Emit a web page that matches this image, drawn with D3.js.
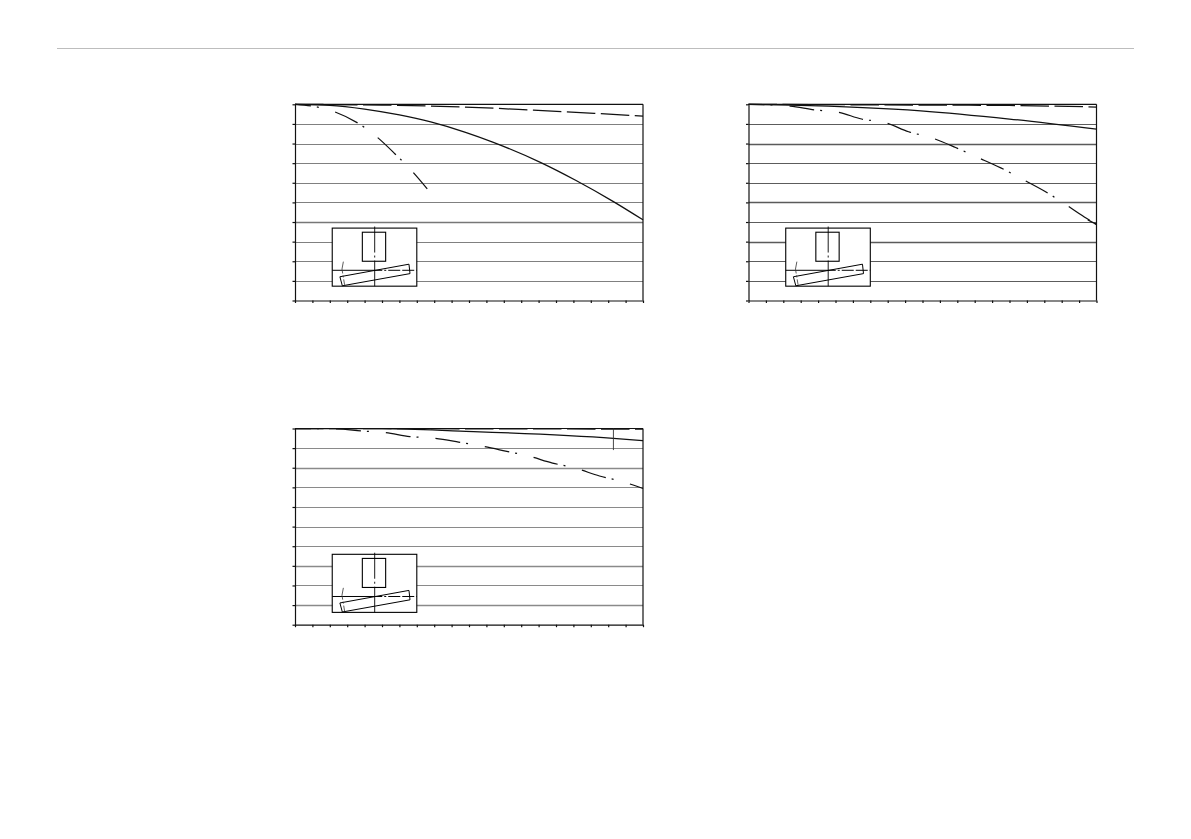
<!DOCTYPE html>
<html>
<head>
<meta charset="utf-8">
<script src="https://cdn.jsdelivr.net/npm/d3@7"></script>
<style>html,body{margin:0;padding:0;background:#fff}svg{display:block}</style>
</head>
<body>
<svg id="c" width="1191" height="839"></svg>
<script>
// Series values: [x, y] in axis units (x 0..20, y 0..100 downward)
const solidA = [[0,0],[2,.5],[4,2.4],[6,5.4],[7.8,9],[9.8,14.3],[11.4,19.4],[14.1,29.6],[16.1,38.6],[18.3,49.6],[20,58.9]];
const dashedA = [[0,0],[5,.4],[9.5,1.3],[13.7,3],[17.2,4.6],[20,6]];
const dashdotA = [[0,0],[1.3,1.4],[2.3,3.9],[3.6,9.5],[4.7,16.6],[5.75,25.3],[6.72,34],[7.6,43.1]];

const solidB = [[0,0],[2.4,.4],[9.9,3.3],[15,7.5],[20,12.7]];
const dashedB = [[0,0],[10,.4],[15,.6],[20,1.4]];
const dashdotB = [[0,0],[2.4,.9],[3.8,2.9],[5.1,3.9],[6.5,7.5],[7.9,9.5],[9.2,14],[10.5,17],[11.9,22],[13.1,26.8],[14.5,32.4],[15.7,38],[17,44.2],[18.1,50.3],[19.3,57.4],[20,61.2]];
const tailB = [[19.5,58.9],[20,61.2]];

const solidC = [[0,0],[5,.1],[9.5,1.3],[18.3,5],[20,6.2]];
const dashedC = [[0,0],[20,.3]];
const dashdotC = [[0,0],[2.4,.2],[3.85,1.3],[5.2,2.1],[6.6,4.1],[7.9,4.9],[9.4,6.9],[10.7,8.9],[12.1,11.5],[13.4,14],[14.8,17.6],[16.1,20.2],[17.5,24.2],[18.9,27.3],[20,30.6]];
const markerC = [[18.3,0],[18.3,11]];

const xTicks = d3.range(0, 21);
const yTicks = d3.range(0, 101, 10);

// Schematic inset, in the same axis units
const insetFrame = [[2.14,63.1],[7,92.7]];
const insetBlock = [[3.87,65.2],[5.21,80]];
const insetBar = [[2.58,87.9],[6.55,81.5],[6.61,86.3],[2.72,92.5]];
const insetVertical = [[4.58,62.3],[4.58,92.7]];
const insetHorizontal = [[2.14,84.6],[7,84.6]];
const insetTilted = [[2.78,80.2],[2.7,84],[2.85,92]];

const panels = [
  {left:295,   top:104.3, solid:solidA, dashed:dashedA, dashdot:dashdotA, grid:"#808080", thick:[60], thickColor:"#777", insetShift:0},
  {left:748.5, top:104.3, solid:solidB, dashed:dashedB, dashdot:dashdotB, grid:"#5c5c5c", thick:[20,50,70], thickColor:"#5a5a5a", insetShift:0, tail:tailB},
  {left:295,   top:428.5, solid:solidC, dashed:dashedC, dashdot:dashdotC, grid:"#8a8a8a", thick:[20,70,90], thickColor:"#8a8a8a", insetShift:2, marker:markerC}
];
const W = 348, H = 196.2, INK = "#111";

const svg = d3.select("#c");
svg.append("line").attr("x1",57).attr("x2",1134).attr("y1",48.5).attr("y2",48.5)
   .attr("stroke","#bdbdbd").attr("stroke-width",1);

panels.forEach(p => {
  const x = d3.scaleLinear().domain([0,20]).range([p.left, p.left + W]);
  const y = d3.scaleLinear().domain([0,100]).range([p.top, p.top + H]);
  const line = d3.line().x(d => x(d[0])).y(d => y(d[1]));
  const curve = d3.line().x(d => x(d[0])).y(d => y(d[1])).curve(d3.curveMonotoneX);
  const g = svg.append("g");

  // gridlines
  g.selectAll(".gl").data(yTicks.slice(1,-1)).join("line")
    .attr("x1",x(0)).attr("x2",x(20))
    .attr("y1",d=>Math.round(y(d))+.5).attr("y2",d=>Math.round(y(d))+.5)
    .attr("stroke",d=>p.thick.includes(d)?p.thickColor:p.grid)
    .attr("stroke-width",d=>p.thick.includes(d)?1.7:1);

  // frame
  g.append("line").attr("x1",x(0)).attr("x2",x(20)).attr("y1",y(0)).attr("y2",y(0)).attr("stroke",INK).attr("stroke-width",1.2);
  g.append("line").attr("x1",x(20)).attr("x2",x(20)).attr("y1",y(0)).attr("y2",y(100)).attr("stroke",INK).attr("stroke-width",1.2);

  // axes
  g.append("g").attr("transform",`translate(0,${y(100)})`)
    .call(d3.axisBottom(x).tickValues(xTicks).tickFormat("").tickSize(2.5).tickSizeOuter(0))
    .call(a=>a.selectAll("line,path").attr("stroke",INK).attr("stroke-width",1.2));
  g.append("g").attr("transform",`translate(${x(0)},0)`)
    .call(d3.axisLeft(y).tickValues(yTicks).tickFormat("").tickSize(2.5).tickSizeOuter(0))
    .call(a=>a.selectAll("line,path").attr("stroke",INK).attr("stroke-width",1.2));

  // inset schematic
  const inset = g.append("g").attr("transform",`translate(0,${p.insetShift})`)
    .attr("fill","none").attr("stroke","#000").attr("stroke-width",1.1);
  inset.append("rect")
    .attr("x",x(insetFrame[0][0])).attr("y",y(insetFrame[0][1]))
    .attr("width",x(insetFrame[1][0])-x(insetFrame[0][0]))
    .attr("height",y(insetFrame[1][1])-y(insetFrame[0][1]))
    .attr("fill","#fff");
  inset.append("rect")
    .attr("x",x(insetBlock[0][0])).attr("y",y(insetBlock[0][1]))
    .attr("width",x(insetBlock[1][0])-x(insetBlock[0][0]))
    .attr("height",y(insetBlock[1][1])-y(insetBlock[0][1]));
  inset.append("path").attr("d",line(insetBar.concat([insetBar[0]]))).attr("stroke-width",1);
  inset.append("path").attr("d",line(insetVertical)).attr("stroke-dasharray","26 3 2 3").attr("stroke-width",.9);
  inset.append("path").attr("d",line(insetHorizontal)).attr("stroke-dasharray","50 2 2 2 12 2 12 2").attr("stroke-width",1);
  inset.append("path").attr("d",line(insetTilted)).attr("stroke-dasharray","12 2 2 2").attr("stroke-width",.8).attr("stroke","#333");

  // series
  const s = g.append("g").attr("fill","none").attr("stroke",INK).attr("stroke-width",1.25);
  s.append("path").attr("d",curve(p.solid));
  s.append("path").attr("d",curve(p.dashed)).attr("stroke-dasharray","28.5 5.5");
  s.append("path").attr("d",curve(p.dashdot)).attr("stroke-dasharray","25 6 2 17").attr("stroke-dashoffset",9);
  if (p.tail) s.append("path").attr("d",line(p.tail));
  if (p.marker) s.append("path").attr("d",line(p.marker)).attr("stroke-width",.9).attr("stroke","#333");
});
</script>
</body>
</html>
